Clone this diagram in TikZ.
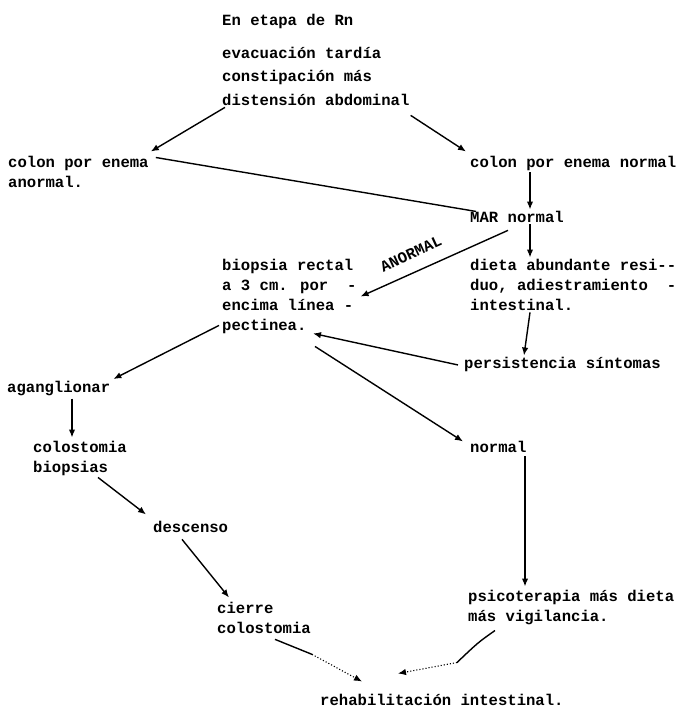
\documentclass[tikz,border=0pt]{standalone}
\usepackage{fontspec}
\newfontfamily\maquina{Liberation Mono}
\usetikzlibrary{arrows.meta}
\tikzset{
	texto/.style={font=\maquina\bfseries\fontsize{15.6}{20}\selectfont, inner sep=0pt, anchor=north west, align=left},
	flecha/.style={line width=1.4pt, -{Latex[length=8pt,width=6.5pt]}},
	trazo/.style={line width=1.4pt},
	punteado/.style={line width=1.1pt, dotted}
}

\begin{document}
\begin{tikzpicture}[x=1pt,y=-1pt]
				%%%%% START %%%%%
				\def\t{6.5}
				\useasboundingbox (0,0) rectangle (679,707);
				
				\node[texto] (etapa) at (222,20-\t) {En etapa de Rn};
				\node[texto, font=\maquina\bfseries\fontsize{15.6}{23.5}\selectfont] (sintomas) at (222,53-\t) {evacuación tardía\\constipación más\\distensión abdominal};
				\node[texto] (anormal) at (8,162-\t) {colon por enema\\anormal.};
				\node[texto] (enema) at (470,162-\t) {colon por enema normal};
				\node[texto] (mar) at (470,217-\t) {MAR normal};
				\node[texto] (biopsia) at (222,265-\t) {biopsia rectal\\a 3 cm. por\ \ -\\encima línea -\\pectinea.};
				\node[texto] (dieta) at (470,265-\t) {dieta abundante resi--\\duo, adiestramiento\ \ -\\intestinal.};
				\node[texto] (persiste) at (464,363-\t) {persistencia síntomas};
				\node[texto] (agan) at (7,387-\t) {aganglionar};
				\node[texto] (colost) at (33,447-\t) {colostomia\\biopsias};
				\node[texto] (descenso) at (153,527-\t) {descenso};
				\node[texto] (normal) at (470,447-\t) {normal};
				\node[texto] (psico) at (468,596-\t) {psicoterapia más dieta\\más vigilancia.};
				\node[texto] (cierre) at (217,608-\t) {cierre\\colostomia};
				\node[texto] (rehab) at (320,700-\t) {rehabilitación intestinal.};
				\node[texto, anchor=center, rotate=24.6] (etiqueta) at (411,254) {ANORMAL};
				
				% desde el cuadro clinico
				\draw[flecha] ([shift={(3,2)}]sintomas.south west) -- ([shift={(2,-4)}]anormal.north east);
				\draw[flecha] ([shift={(1,10)}]sintomas.south east) -- ([shift={(-4,-4)}]enema.north west);
				\draw[trazo] ([shift={(7,2)}]anormal.north east) -- ([shift={(6,-5)}]mar.west);
				\draw[flecha] ([shift={(60,2)}]enema.south west) -- ([shift={(60,-1)}]mar.north west);
				\draw[flecha] ([shift={(60,2)}]mar.south west) -- ([shift={(60,-1)}]dieta.north west);
				\draw[flecha] ([shift={(38,8)}]mar.south west) -- ([shift={(4,38)}]biopsia.north east);
				\draw[flecha] ([shift={(60,2)}]dieta.south west) -- ([shift={(60,-1)}]persiste.north west);
				
				% biopsia
				\draw[flecha] ([shift={(-3,-8)}]biopsia.south west) -- ([shift={(3,-9)}]agan.east);
				\draw[flecha] ([shift={(-6,1)}]persiste.west) -- ([shift={(91,0)}]biopsia.south west);
				\draw[flecha] ([shift={(93,13)}]biopsia.south west) -- ([shift={(-7,-5)}]normal.west);
				
				% rama aganglionar
				\draw[flecha] ([shift={(65,3)}]agan.south west) -- ([shift={(39,-3)}]colost.north west);
				\draw[flecha] ([shift={(65,2)}]colost.south west) -- ([shift={(-7,-12)}]descenso.west);
				\draw[flecha] ([shift={(29,7)}]descenso.south west) -- ([shift={(12,-4)}]cierre.north west);
				\coordinate (c1) at ([shift={(95,21)}]cierre.south west);
				\draw[trazo] ([shift={(58,6)}]cierre.south west) -- (c1);
				\draw[punteado, -{Latex[length=8pt,width=6.5pt]}] (c1) -- ([shift={(42,-12)}]rehab.north west);
				
				% rama normal
				\draw[flecha] ([shift={(55,4)}]normal.south west) -- ([shift={(57,-3)}]psico.north west);
				\coordinate (c2) at ([shift={(-11,38)}]psico.south west);
				\draw[trazo] ([shift={(27,6)}]psico.south west) .. controls ([shift={(10,18)}]psico.south west) .. (c2);
				\draw[punteado, -{Latex[length=8pt,width=6.5pt]}] (c2) -- ([shift={(78,-20)}]rehab.north west);
				%%%%% END %%%%%
\end{tikzpicture}
\end{document}
